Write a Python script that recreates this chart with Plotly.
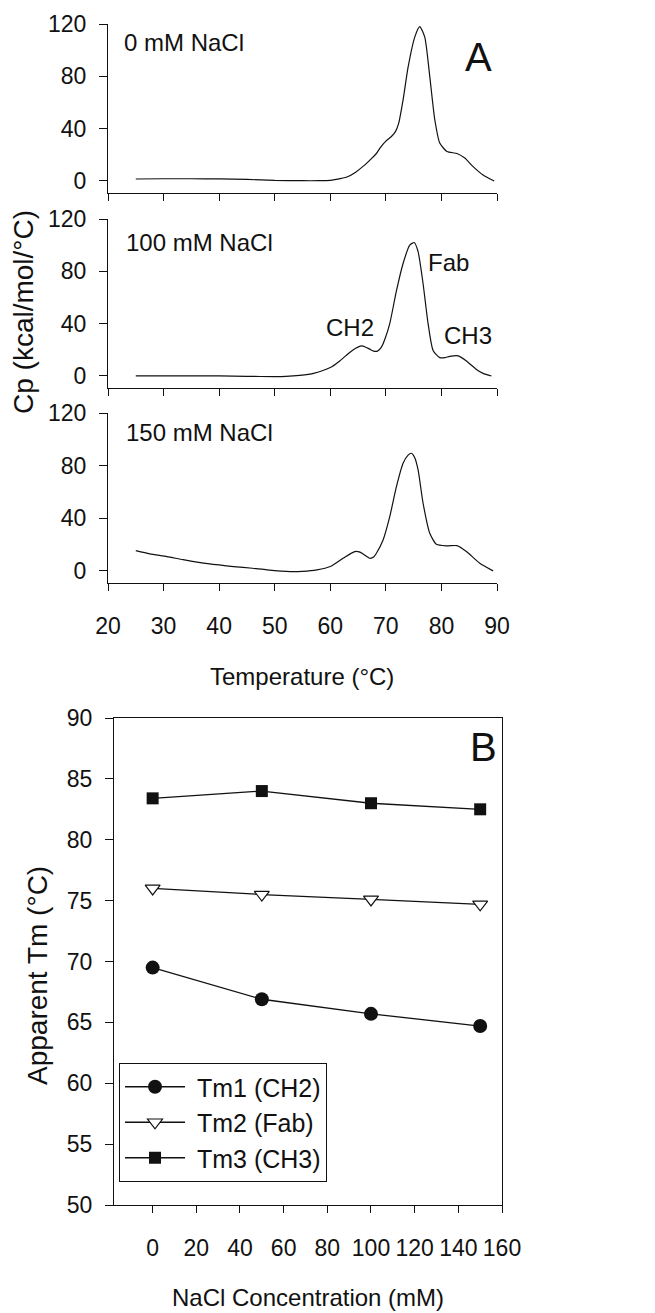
import plotly.graph_objects as go

# target picture size; the page body adds an 8px margin, so the figure is offset by it
W, H = 655, 1313
OFF = 8
FW, FH = W - OFF, H - OFF

# ---------------- Panel A data (DSC thermograms) ----------------
temp_0mM = [25, 30, 35, 40, 45, 50, 55, 58, 60, 62, 63, 64.5, 66, 67.5, 68.3, 69, 70, 71, 71.7, 72.3,
            73.1, 74, 75.2, 76.1, 77, 77.9, 78.8, 79.7, 81, 82.8, 84.2, 85.7, 87.5, 89.5]
cp_0mM = [1.5, 1.7, 1.7, 1.6, 1.2, 0.4, 0.2, 0.2, 0.5, 2, 3, 6.5, 11.5, 17.5, 21, 25.5, 30.5, 34, 37.5, 44,
          62, 87, 110, 118, 110, 80, 47, 29, 22.5, 21, 17.5, 11, 4.6, 0]

temp_100mM = [25, 30, 35, 40, 45, 50, 52, 54.5, 57, 60, 61.7, 63.5, 64.5, 65.6, 66.4, 67.1, 67.8, 68.5,
              69.2, 69.9, 70.7, 71.9, 73.1, 74.3, 75.1, 75.8, 76.7, 77.6, 78.5, 79.7, 80.6, 81.5, 83,
              84.5, 86.3, 87.5, 89]
cp_100mM = [0, 0, 0, 0, -0.3, -0.5, -0.3, 0.5, 2, 6.4, 11.5, 18, 21, 23, 22, 20.5, 19, 19,
            22, 29, 40, 65, 86, 100, 102, 95, 70.5, 40, 19.5, 14, 14, 15, 15.4,
            11.5, 5, 2, 0]

temp_150mM = [25, 27.5, 30.6, 33.5, 36.6, 40, 42.6, 46, 48.6, 52.8, 55, 57.6, 60, 62.3, 64.4, 65.2,
              65.9, 67.1, 67.8, 68.3, 69.5, 70.7, 71.9, 73.1, 74, 74.6, 75.2, 75.8, 76.7, 77.9, 79.1,
              80.9, 82.8, 84.5, 86.9, 89.3]
cp_150mM = [15.4, 13, 10.9, 8.5, 6.3, 4.5, 3.3, 2, 0.8, -0.5, -0.3, 0.8, 3.3, 9.6, 14.7, 14.5,
            12.9, 9.6, 10.5, 13.4, 23.5, 41.2, 64, 81.8, 88, 89.4, 86, 76.7, 51.4, 28.6, 20.2,
            19, 19.2, 14.7, 5.8, 0]

temp_ticks = [20, 30, 40, 50, 60, 70, 80, 90]
cp_ticks = [0, 40, 80, 120]

# ---------------- Panel B data (apparent Tm) ----------------
nacl_mM = [0, 50, 100, 150]
tm1_ch2 = [69.5, 66.9, 65.7, 64.7]
tm2_fab = [76.0, 75.5, 75.1, 74.7]
tm3_ch3 = [83.4, 84.0, 83.0, 82.5]
nacl_ticks = [0, 20, 40, 60, 80, 100, 120, 140, 160]
tm_ticks = [50, 55, 60, 65, 70, 75, 80, 85, 90]

FONT = "Liberation Sans, Arial, sans-serif"
INK = "#111111"
NB = "\u00a0"


def px(p):
    return (p - OFF) / FW


def py(p):
    return 1 - (p - OFF) / FH


fig = go.Figure()

curve_line = dict(color=INK, width=1.2, shape="spline", smoothing=0.6)
for i, (t, c) in enumerate([(temp_0mM, cp_0mM), (temp_100mM, cp_100mM), (temp_150mM, cp_150mM)]):
    sfx = "" if i == 0 else str(i + 1)
    fig.add_trace(go.Scatter(x=t, y=c, mode="lines", line=curve_line, showlegend=False,
                             xaxis="x" + sfx, yaxis="y" + sfx, hoverinfo="skip"))

fig.add_trace(go.Scatter(x=nacl_mM, y=tm1_ch2, mode="lines+markers", name=NB + "Tm1 (CH2)",
                         line=dict(color=INK, width=1.3),
                         marker=dict(symbol="circle", size=14, color=INK),
                         xaxis="x4", yaxis="y4", legendgroup="g1"))
fig.add_trace(go.Scatter(x=nacl_mM, y=tm2_fab, mode="lines+markers", name=NB + "Tm2 (Fab)",
                         line=dict(color=INK, width=1.3),
                         marker=dict(symbol="triangle-down", size=13, color="white",
                                     line=dict(color=INK, width=1.2)),
                         xaxis="x4", yaxis="y4", legendgroup="g2"))
fig.add_trace(go.Scatter(x=nacl_mM, y=tm3_ch3, mode="lines+markers", name=NB + "Tm3 (CH3)",
                         line=dict(color=INK, width=1.3),
                         marker=dict(symbol="square", size=12, color=INK),
                         xaxis="x4", yaxis="y4", legendgroup="g3"))

tickfont = dict(family=FONT, size=23, color=INK)
common = dict(showline=True, linecolor=INK, linewidth=1, ticks="outside", tickcolor=INK,
              tickwidth=1, showgrid=False, zeroline=False, tickfont=tickfont, automargin=False)

xA = [px(108), px(497)]
fig.update_layout(
    xaxis=dict(domain=xA, range=[20, 90], tickvals=temp_ticks, showticklabels=False, ticklen=7,
               anchor="y", **common),
    yaxis=dict(domain=[py(193), py(24)], range=[-9.2, 120], tickvals=cp_ticks, ticklen=8,
               anchor="x", ticklabelstandoff=8, **common),
    xaxis2=dict(domain=xA, range=[20, 90], tickvals=temp_ticks, showticklabels=False, ticklen=7,
                anchor="y2", **common),
    yaxis2=dict(domain=[py(388), py(219)], range=[-9.2, 120], tickvals=cp_ticks, ticklen=8,
                anchor="x2", ticklabelstandoff=8, **common),
    xaxis3=dict(domain=xA, range=[20, 90], tickvals=temp_ticks, ticklen=7, anchor="y3",
                ticklabelstandoff=15, **common),
    yaxis3=dict(domain=[py(583), py(413)], range=[-9.2, 120], tickvals=cp_ticks, ticklen=8,
                anchor="x3", ticklabelstandoff=8, **common),
    xaxis4=dict(domain=[px(114), px(502)], range=[-17.7, 160], tickvals=nacl_ticks, ticklen=7,
                anchor="y4", mirror=True, ticklabelstandoff=15, **common),
    yaxis4=dict(domain=[py(1205), py(718)], range=[50, 90], tickvals=tm_ticks, ticklen=8,
                anchor="x4", mirror=True, ticklabelstandoff=8, **common),
)

txt = dict(family=FONT, size=24, color=INK)
vtxt = dict(family=FONT, size=28, color=INK)
big = dict(family=FONT, size=40, color=INK)
annotations = [
    dict(text="0 mM NaCl", x=22.5, y=106, xref="x", yref="y", xanchor="left", yanchor="middle",
         showarrow=False, font=txt),
    dict(text="A", x=86.6, y=95, xref="x", yref="y", xanchor="center", yanchor="middle",
         showarrow=False, font=big),
    dict(text="100 mM NaCl", x=22.8, y=102, xref="x2", yref="y2", xanchor="left", yanchor="middle",
         showarrow=False, font=txt),
    dict(text="CH2", x=63.5, y=37, xref="x2", yref="y2", showarrow=False, font=txt),
    dict(text="Fab", x=81.2, y=87, xref="x2", yref="y2", showarrow=False, font=txt),
    dict(text="CH3", x=84.8, y=31, xref="x2", yref="y2", showarrow=False, font=txt),
    dict(text="150 mM NaCl", x=22.8, y=105, xref="x3", yref="y3", xanchor="left", yanchor="middle",
         showarrow=False, font=txt),
    dict(text="B", x=151.6, y=87.6, xref="x4", yref="y4", xanchor="center", yanchor="middle",
         showarrow=False, font=big),
    dict(text="Temperature (°C)", x=px(302), y=py(677), xref="paper", yref="paper",
         xanchor="center", yanchor="middle", showarrow=False, font=txt),
    dict(text="Cp (kcal/mol/°C)", x=px(23), y=py(312), xref="paper", yref="paper", textangle=-90,
         xanchor="center", yanchor="middle", showarrow=False, font=vtxt),
    dict(text="Apparent Tm (°C)", x=px(38), y=py(976), xref="paper", yref="paper", textangle=-90,
         xanchor="center", yanchor="middle", showarrow=False, font=vtxt),
    dict(text="NaCl Concentration (mM)", x=px(308), y=py(1297), xref="paper", yref="paper",
         xanchor="center", yanchor="middle", showarrow=False, font=txt),
]

fig.update_layout(
    width=FW, height=FH, margin=dict(l=0, r=0, t=0, b=0, autoexpand=False),
    paper_bgcolor="white", plot_bgcolor="white",
    font=dict(family=FONT, color=INK),
    annotations=annotations,
    showlegend=True,
    legend=dict(x=px(119), y=py(1063), xanchor="left", yanchor="top", bgcolor="white",
                bordercolor=INK, borderwidth=1, font=dict(family=FONT, size=25, color=INK),
                itemwidth=60, tracegroupgap=10, traceorder="normal"),
)

fig.write_html("out.html")
